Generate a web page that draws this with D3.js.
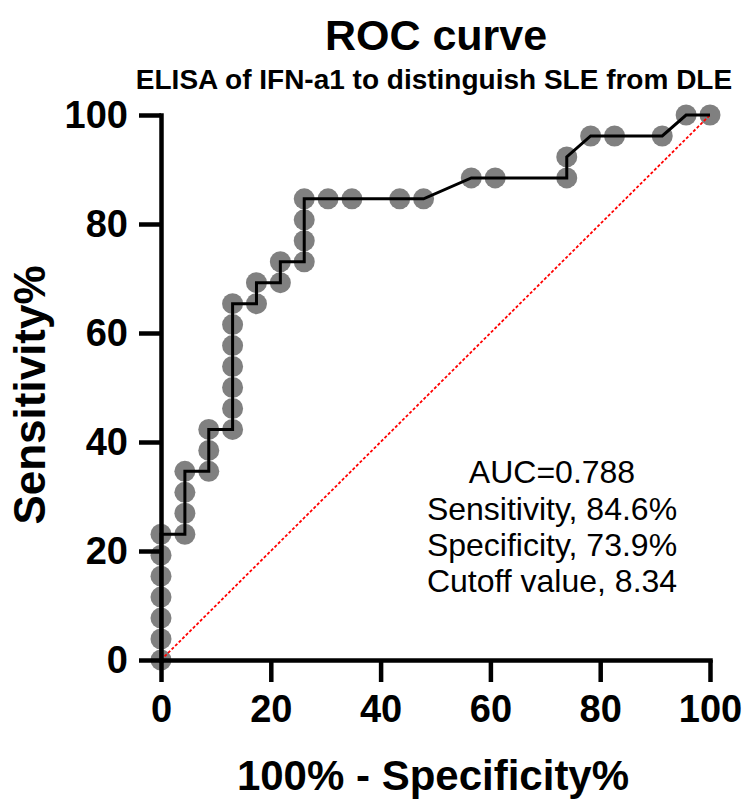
<!DOCTYPE html>
<html>
<head>
<meta charset="utf-8">
<script src="https://cdn.jsdelivr.net/npm/d3@7"></script>
<style>
  html, body { margin: 0; padding: 0; background: #fff; }
  svg { display: block; }
  text { font-family: "Liberation Sans", Arial, sans-serif; }
</style>
</head>
<body>
<svg id="chart" width="744" height="810"></svg>
<script>
// 100% - Specificity% (x) and Sensitivity% (y) for each ROC point
const fpr = [0,0,0,0,0,0,0,
  4.35,4.35,4.35,4.35,
  8.70,8.70,8.70,
  13.04,13.04,13.04,13.04,13.04,13.04,13.04,
  17.39,17.39,
  21.74,21.74,
  26.09,26.09,26.09,26.09,
  30.43,34.78,43.48,47.83,
  56.52,60.87,
  73.91,73.91,
  78.26,82.61,91.30,
  95.65,100];
const tpr = [0,3.85,7.69,11.54,15.38,19.23,23.08,
  23.08,26.92,30.77,34.62,
  34.62,38.46,42.31,
  42.31,46.15,50.00,53.85,57.69,61.54,65.38,
  65.38,69.23,
  69.23,73.08,
  73.08,76.92,80.77,84.62,
  84.62,84.62,84.62,84.62,
  88.46,88.46,
  88.46,92.31,
  96.15,96.15,96.15,
  100,100];
const xTicks = [0,20,40,60,80,100];
const yTicks = [0,20,40,60,80,100];
const titleText = "ROC curve";
const subtitleText = "ELISA of IFN-a1 to distinguish SLE from DLE";
const xTitle = "100% - Specificity%";
const yTitle = "Sensitivity%";
const annotation = ["AUC=0.788", "Sensitivity, 84.6%", "Specificity, 73.9%", "Cutoff value, 8.34"];
const refLine = [[0,0],[100,100]];

const svg = d3.select("#chart");
const x = d3.scaleLinear().domain([0,100]).range([161,710]);
const y = d3.scaleLinear().domain([0,100]).range([660,115]);

const pts = fpr.map((v,i) => [v, tpr[i]]);

// markers
svg.append("g").selectAll("circle").data(pts).join("circle")
  .attr("cx", d => x(d[0])).attr("cy", d => y(d[1]))
  .attr("r", 10.5).attr("fill", "#808080");

// reference diagonal
svg.append("path")
  .attr("d", d3.line().x(d => x(d[0])).y(d => y(d[1]))(refLine))
  .attr("fill", "none").attr("stroke", "#ff0000").attr("stroke-width", 1.8)
  .attr("stroke-dasharray", "3,2");

// ROC line
svg.append("path")
  .attr("d", d3.line().x(d => x(d[0])).y(d => y(d[1]))(pts))
  .attr("fill", "none").attr("stroke", "#000").attr("stroke-width", 3)
  .attr("stroke-linejoin", "miter");

// axes
const xa = svg.append("g").attr("transform", `translate(0,${y(0)})`)
  .call(d3.axisBottom(x).tickValues(xTicks).tickSize(22).tickSizeOuter(0).tickPadding(13).tickFormat(d3.format("d")));
const ya = svg.append("g").attr("transform", `translate(${x(0)},0)`)
  .call(d3.axisLeft(y).tickValues(yTicks).tickSize(22).tickSizeOuter(0).tickPadding(11).tickFormat(d3.format("d")));
[xa, ya].forEach(g => {
  g.select(".domain").attr("stroke", "#000").attr("stroke-width", 4.5).attr("stroke-linecap", "square");
  g.selectAll(".tick line").attr("stroke", "#000").attr("stroke-width", 4.5);
  g.selectAll(".tick text").attr("fill", "#000").style("font-size", "38px").style("font-weight", "bold")
    .style("font-family", "'Liberation Sans', Arial, sans-serif");
});

// titles
svg.append("text").attr("x", 436).attr("y", 50).attr("text-anchor", "middle")
  .style("font-size", "43px").style("font-weight", "bold").text(titleText);
svg.append("text").attr("x", 434).attr("y", 89).attr("text-anchor", "middle")
  .style("font-size", "28px").style("font-weight", "bold").text(subtitleText);
svg.append("text").attr("x", 433).attr("y", 790).attr("text-anchor", "middle")
  .style("font-size", "42px").style("font-weight", "bold").text(xTitle);
svg.append("text").attr("transform", "translate(45,395) rotate(-90)").attr("text-anchor", "middle")
  .style("font-size", "44px").style("font-weight", "bold").text(yTitle);

// annotation
const baselines = [483, 520, 556, 592];
svg.append("g").selectAll("text").data(annotation).join("text")
  .attr("x", 552).attr("y", (d,i) => baselines[i]).attr("text-anchor", "middle")
  .style("font-size", "32px").text(d => d);
</script>
</body>
</html>
